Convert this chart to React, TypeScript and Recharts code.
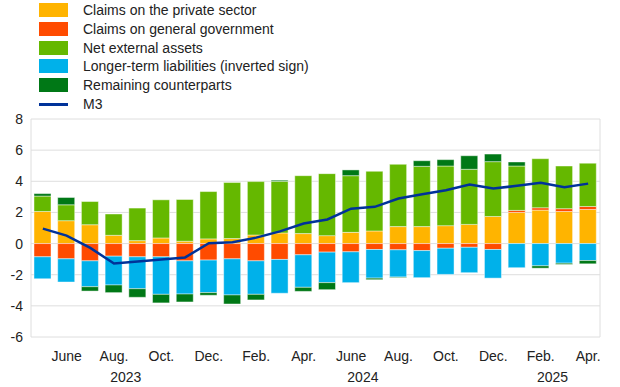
import React from "react";
import {
  ComposedChart,
  Bar,
  Line,
  XAxis,
  YAxis,
  CartesianGrid,
} from "recharts";

// monthly data, May 2023 - Apr 2025
const months = [
  "2023-05", "2023-06", "2023-07", "2023-08", "2023-09", "2023-10",
  "2023-11", "2023-12", "2024-01", "2024-02", "2024-03", "2024-04",
  "2024-05", "2024-06", "2024-07", "2024-08", "2024-09", "2024-10",
  "2024-11", "2024-12", "2025-01", "2025-02", "2025-03", "2025-04",
];

const monthLabels = [
  "", "June", "", "Aug.", "", "Oct.", "", "Dec.", "", "Feb.", "", "Apr.",
  "", "June", "", "Aug.", "", "Oct.", "", "Dec.", "", "Feb.", "", "Apr.",
];

// year label sits between this month index and the next one
const yearLabels = [
  { label: "2023", anchor: 3 },
  { label: "2024", anchor: 13 },
  { label: "2025", anchor: 21 },
];

const privateSector = [
  2.06, 1.47, 1.21, 0.53, 0.19, 0.36, 0.15, 0.3, 0.32, 0.55, 0.68, 0.64,
  0.51, 0.72, 0.81, 1.09, 1.09, 1.15, 1.23, 1.74, 2.0, 2.15, 2.06, 2.19,
];
const generalGov = [
  -0.85, -0.98, -1.11, -0.81, -0.85, -0.85, -1.11, -1.06, -0.98, -1.11, -1.02, -0.72,
  -0.55, -0.53, -0.38, -0.4, -0.45, -0.3, -0.24, -0.38, 0.13, 0.15, 0.18, 0.19,
];
const netExternal = [
  0.99, 1.02, 1.49, 1.37, 2.09, 2.45, 2.68, 3.04, 3.6, 3.43, 3.32, 3.72,
  3.98, 3.64, 3.83, 4.0, 3.87, 3.83, 3.54, 3.52, 2.85, 3.15, 2.74, 2.78,
];
const longerTerm = [
  -1.41, -1.49, -1.66, -1.85, -2.05, -2.41, -2.13, -2.09, -2.32, -2.15, -2.17, -2.09,
  -1.96, -1.98, -1.84, -1.75, -1.74, -1.68, -1.63, -1.84, -1.55, -1.43, -1.26, -1.09,
];
const remaining = [
  0.16, 0.47, -0.28, -0.49, -0.55, -0.55, -0.51, -0.17, -0.58, -0.36, 0.07, -0.26,
  -0.45, 0.37, -0.1, -0.04, 0.36, 0.41, 0.87, 0.49, 0.26, -0.15, -0.08, -0.21,
];
const m3 = [
  0.96, 0.51, -0.28, -1.28, -1.15, -1.02, -0.89, 0.02, 0.08, 0.38, 0.78, 1.29,
  1.55, 2.24, 2.36, 2.89, 3.17, 3.43, 3.79, 3.53, 3.71, 3.9, 3.62, 3.85,
];

const yTicks = [-6, -4, -2, 0, 2, 4, 6, 8];

const COLORS = {
  private: "#FFB400",
  gov: "#FF4B00",
  nea: "#65B800",
  ltl: "#00B1EA",
  rem: "#007816",
  m3: "#003299",
};

const legendItems = [
  { label: "Claims on the private sector", color: COLORS.private, type: "rect" },
  { label: "Claims on general government", color: COLORS.gov, type: "rect" },
  { label: "Net external assets", color: COLORS.nea, type: "rect" },
  { label: "Longer-term liabilities (inverted sign)", color: COLORS.ltl, type: "rect" },
  { label: "Remaining counterparts", color: COLORS.rem, type: "rect" },
  { label: "M3", color: COLORS.m3, type: "line" },
];

const W = 620;
const H = 387;
const PLOT_LEFT = 31;
const PLOT_RIGHT = 600;
const BAND = (PLOT_RIGHT - PLOT_LEFT) / months.length;
const FONT = '"Liberation Sans", Arial, sans-serif';

const data = months.map((m, i) => ({
  month: m,
  private: privateSector[i],
  gov: generalGov[i],
  nea: netExternal[i],
  ltl: longerTerm[i],
  rem: remaining[i],
  m3: m3[i],
}));

const MonthTick = (props: any) => {
  const { x, y, index } = props;
  const year = yearLabels.find((yl) => yl.anchor === index);
  return (
    <g>
      {monthLabels[index] && (
        <text x={x} y={y} dy="0.71em" textAnchor="middle" fill="#222" fontSize={14} fontFamily={FONT}>
          {monthLabels[index]}
        </text>
      )}
      {year && (
        <text x={x + BAND / 2} y={y + 21} dy="0.71em" textAnchor="middle" fill="#222" fontSize={14} fontFamily={FONT}>
          {year.label}
        </text>
      )}
    </g>
  );
};

const barStyle = { stroke: "#ffffff", strokeWidth: 0.8, strokeOpacity: 0.55 };

export default function App() {
  return (
    <div style={{ position: "relative", width: W, height: H, background: "#fff" }}>
      <style>{`body { margin: 0; }`}</style>
      <div style={{ position: "absolute", left: 0, top: 0, fontFamily: FONT, fontSize: 14, color: "#222" }}>
        {legendItems.map((item, i) => (
          <div key={item.label} style={{ position: "absolute", top: 3 + i * 18.8, left: 39, height: 14, width: 400 }}>
            {item.type === "rect" ? (
              <div style={{ position: "absolute", left: 0, top: 0, width: 29, height: 14, background: item.color }} />
            ) : (
              <div style={{ position: "absolute", left: 0, top: 5.5, width: 29, height: 3, background: item.color }} />
            )}
            <span style={{ position: "absolute", left: 44, top: -1, lineHeight: "16px", whiteSpace: "nowrap" }}>
              {item.label}
            </span>
          </div>
        ))}
      </div>
      <ComposedChart
        width={W}
        height={H}
        data={data}
        stackOffset="sign"
        margin={{ top: 119, right: W - PLOT_RIGHT, left: 0, bottom: 0 }}
        style={{ position: "absolute", left: 0, top: 0 }}
      >
        <CartesianGrid stroke="#dedede" vertical={true} verticalPoints={[PLOT_LEFT, PLOT_RIGHT]} />
        <XAxis
          dataKey="month"
          interval={0}
          axisLine={false}
          tickLine={false}
          tickMargin={8}
          height={50}
          tick={<MonthTick />}
        />
        <YAxis
          width={PLOT_LEFT}
          domain={[-6, 8]}
          ticks={yTicks}
          axisLine={false}
          tickLine={false}
          tick={{ fill: "#222", fontSize: 14, fontFamily: FONT }}
        />
        <Bar dataKey="private" stackId="a" fill={COLORS.private} barSize={17} {...barStyle} isAnimationActive={false} />
        <Bar dataKey="gov" stackId="a" fill={COLORS.gov} barSize={17} {...barStyle} isAnimationActive={false} />
        <Bar dataKey="nea" stackId="a" fill={COLORS.nea} barSize={17} {...barStyle} isAnimationActive={false} />
        <Bar dataKey="ltl" stackId="a" fill={COLORS.ltl} barSize={17} {...barStyle} isAnimationActive={false} />
        <Bar dataKey="rem" stackId="a" fill={COLORS.rem} barSize={17} {...barStyle} isAnimationActive={false} />
        <Line
          dataKey="m3"
          type="linear"
          stroke={COLORS.m3}
          strokeWidth={2.5}
          dot={false}
          isAnimationActive={false}
        />
      </ComposedChart>
    </div>
  );
}
